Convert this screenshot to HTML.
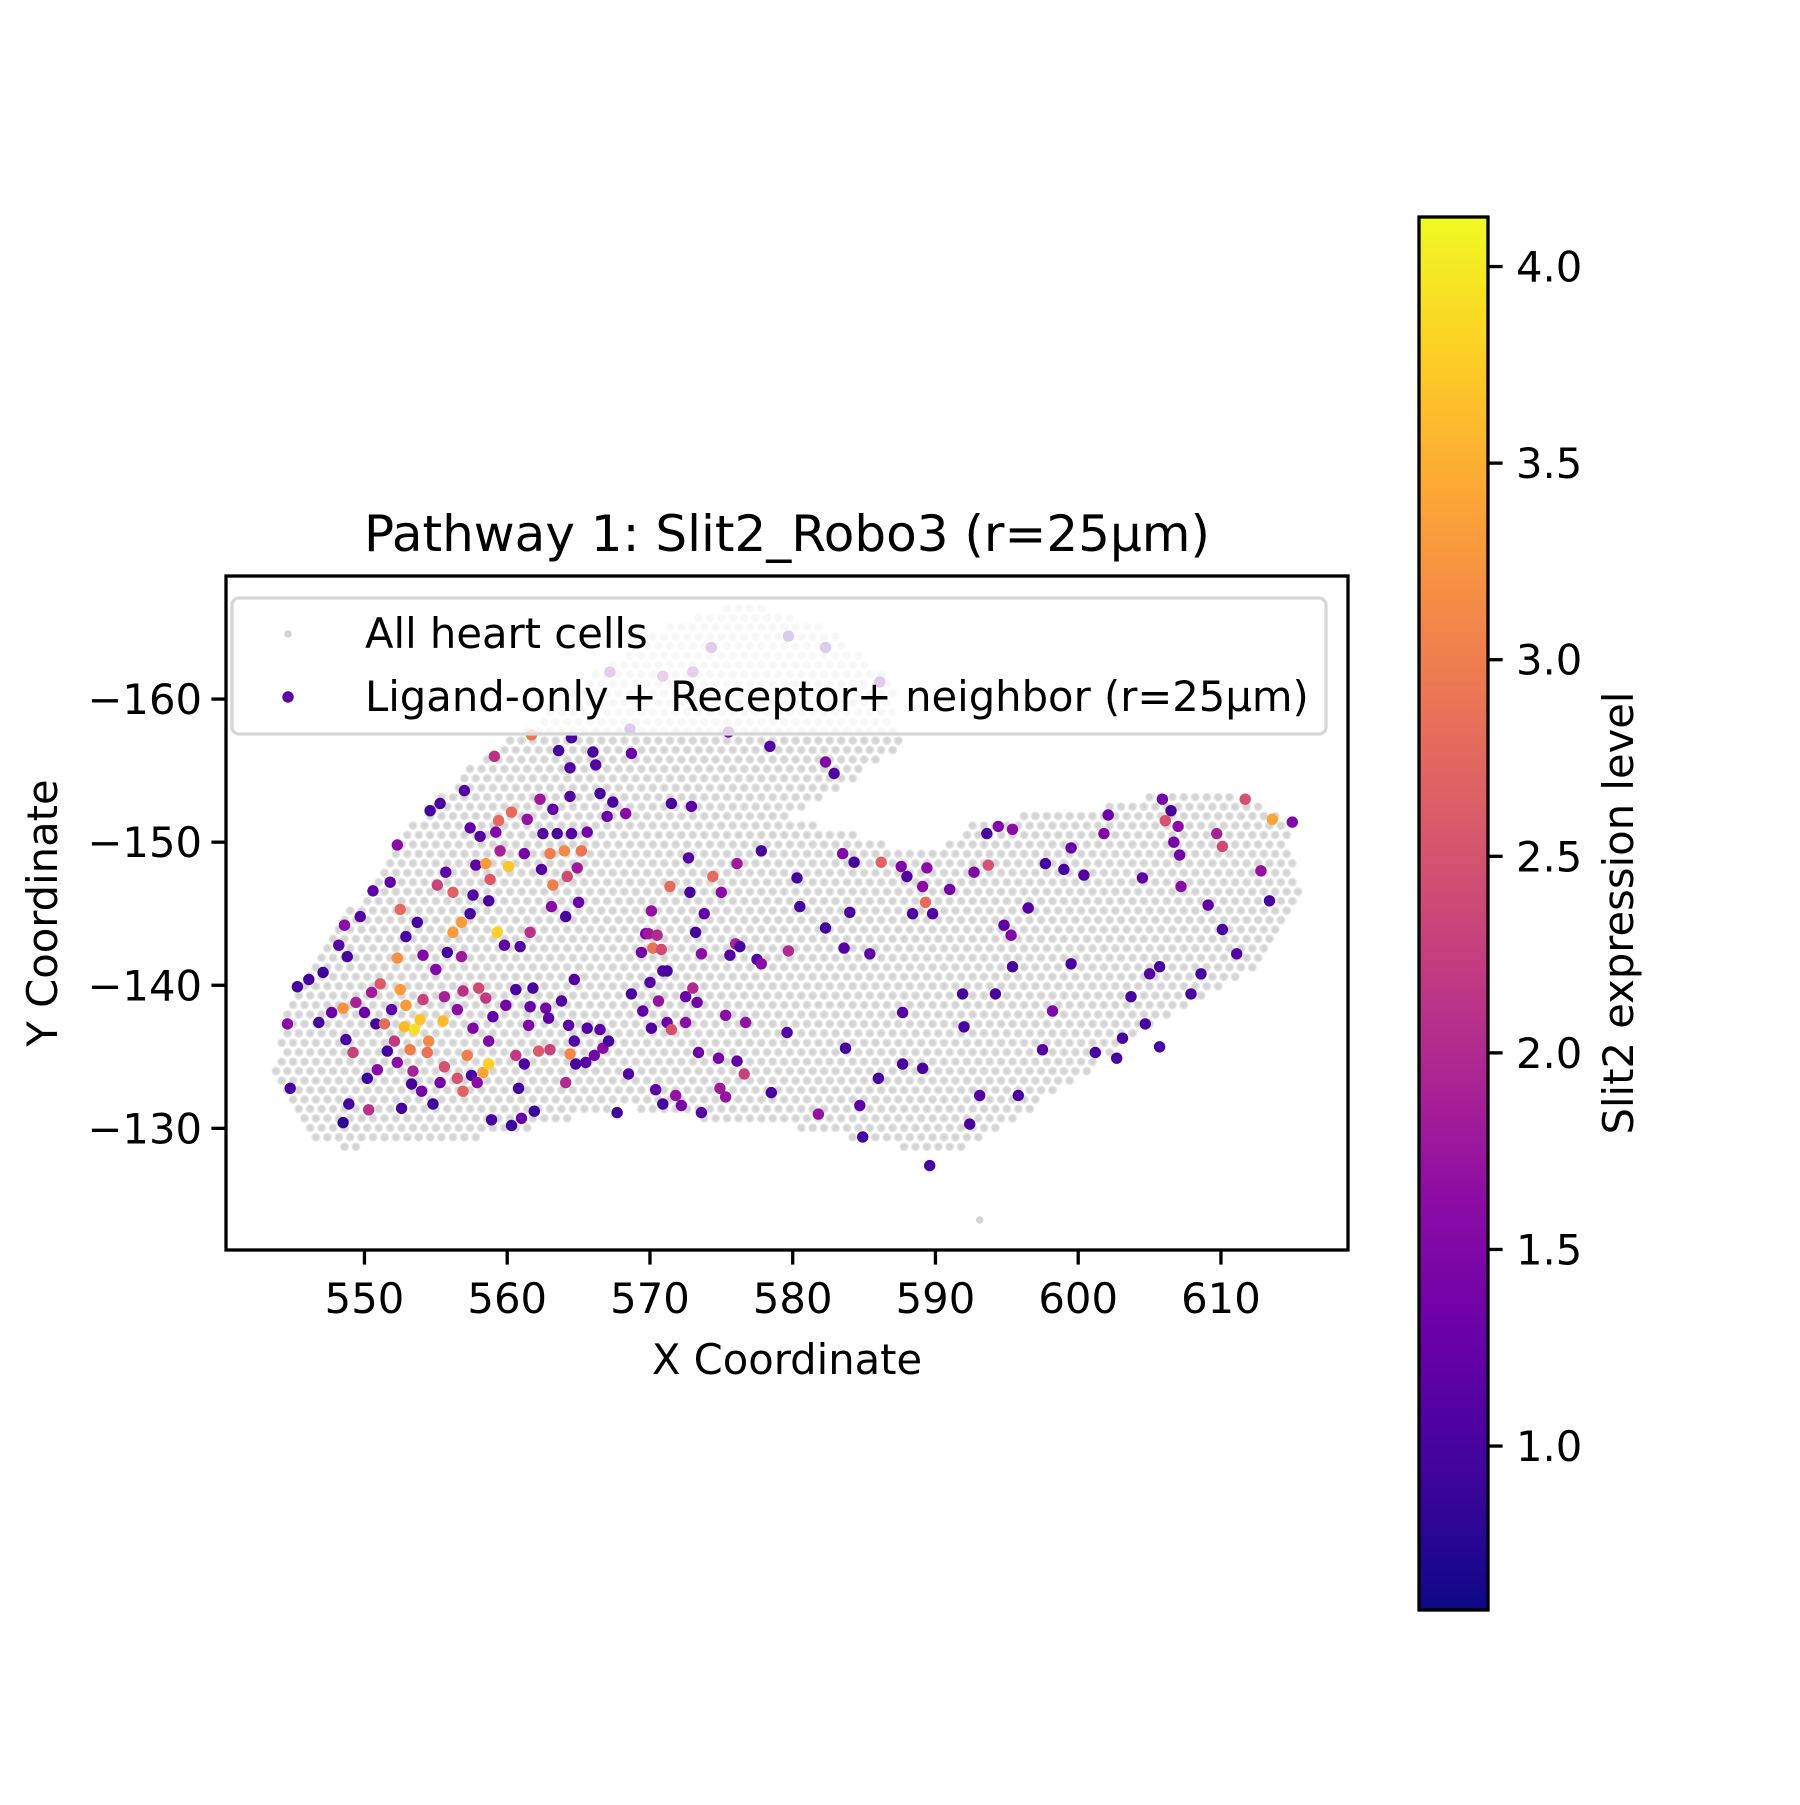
<!DOCTYPE html>
<html><head><meta charset="utf-8"><style>
html,body{margin:0;padding:0;background:#fff}
svg text{font-family:"DejaVu Sans","Liberation Sans",sans-serif;fill:#000}
</style></head><body>
<svg id="chart" width="1800" height="1800" viewBox="0 0 1800 1800" xmlns="http://www.w3.org/2000/svg">
<rect width="1800" height="1800" fill="#fff"/>
<defs>
<linearGradient id="plasma" x1="0" y1="1" x2="0" y2="0">
<stop offset="0" stop-color="#0d0887"/><stop offset="0.1" stop-color="#41049d"/><stop offset="0.2" stop-color="#6a00a8"/><stop offset="0.3" stop-color="#8f0da4"/><stop offset="0.4" stop-color="#b12a90"/><stop offset="0.5" stop-color="#cc4778"/><stop offset="0.6" stop-color="#e16462"/><stop offset="0.7" stop-color="#f2844b"/><stop offset="0.8" stop-color="#fca636"/><stop offset="0.9" stop-color="#fcce25"/><stop offset="1" stop-color="#f0f921"/>
</linearGradient>
<clipPath id="plotclip"><rect x="226" y="576" width="1122" height="674"/></clipPath>
</defs>
<g id="bg" clip-path="url(#plotclip)"></g>
<g id="fg" clip-path="url(#plotclip)"></g>
<g id="axes"></g>
<g id="legend"></g>
<g id="cbar"></g>
</svg>
<script>
// Outline of the heart tissue region (data coords) used for the background cell lattice
const outlineX=[543.7,544.7,547.9,551.9,556.8,561.6,566.5,571.3,576.9,582.6,587.1,587.5,583.5,579.4,582.6,589.1,593.2,601.2,606.1,610.1,614.2,615.6,613.3,609.3,605.3,601.2,596.4,593.1,589.5,585.9,581.0,576.2,572.1,568.1,563.3,558.4,553.6,548.7,546.3,543.9];
const outlineY=[-134.7,-138.7,-143.6,-149.6,-154.8,-158.1,-162.1,-165.3,-166.8,-164.9,-161.3,-156.5,-154.0,-151.6,-151.0,-149.2,-151.5,-152.4,-153.4,-153.4,-152.0,-146.8,-141.9,-139.5,-137.5,-134.3,-131.1,-129.0,-128.2,-129.0,-129.9,-130.5,-130.8,-131.5,-130.3,-129.4,-129.1,-128.6,-129.0,-132.7];
const extraGrayX=[593.1];
const extraGrayY=[-123.6];
// Ligand-only cells with receptor+ neighbor
const ptX=[544.6,544.8,545.3,546.1,547.1,546.8,547.7,548.2,548.5,548.6,548.8,548.7,548.9,548.5,549.2,549.4,549.7,550,550.2,550.3,550.5,550.6,550.9,551.1,550.8,551.4,551.6,551.8,551.9,552.3,552.1,552.3,552.5,552.5,552.6,552.3,552.9,552.8,552.9,553.2,553.3,553.5,553.4,553.7,553.9,554.1,554.1,554.0,554.6,554.5,554.4,554.8,555.0,555.1,555.3,555.5,555.6,555.6,555.8,555.7,555.3,556.2,556.2,556.5,556.5,556.8,556.8,557.0,556.9,556.9,557.2,557.4,557.4,557.6,557.6,557.8,557.5,557.9,558.0,558.1,558.3,558.5,558.5,558.7,558.7,558.7,558.8,558.9,559.0,559.1,559.2,559.3,559.4,559.5,559.8,559.9,560.1,560.3,560.3,560.6,560.6,560.9,560.8,561.0,561.2,561.2,561.4,561.5,561.6,561.8,561.6,561.9,561.7,562.2,562.3,562.4,562.5,562.7,562.9,563.0,563.0,563.2,563.1,563.2,563.5,563.6,563.8,564.0,564.1,564.1,564.2,564.3,564.4,564.4,564.5,564.4,564.5,564.7,564.9,564.7,564.8,565.0,565.2,565.5,565.6,565.6,566.0,566.1,566.2,566.5,566.5,566.7,567.0,567.1,567.4,567.7,568.3,568.5,568.7,568.7,569.4,569.5,569.7,570.0,569.9,570.1,570.1,570.2,570.5,570.4,570.6,570.8,570.9,570.9,571.2,571.2,571.4,571.5,571.5,571.8,572.2,572.5,572.5,572.7,572.9,572.8,573.0,573.2,573.3,573.4,573.6,573.6,573.8,574.4,574.8,574.9,575.0,575.3,575.3,575.5,575.6,576.0,576.1,576.1,576.3,576.6,576.7,577.5,577.8,577.8,578.4,578.5,579.6,579.7,580.3,580.5,581.8,582.3,582.3,582.9,583.5,583.6,583.7,584.0,584.3,584.7,584.9,585.4,586.0,586.2,587.6,587.7,587.7,588.0,588.4,589.1,589.1,589.3,589.4,589.8,589.6,591.0,591.9,592.0,592.4,592.7,593.1,593.6,593.7,594.2,594.4,594.8,595.3,595.4,595.4,595.8,596.5,597.5,597.7,598.2,599.0,599.5,599.5,600.4,601.2,601.8,602.1,602.7,603.1,603.7,604.5,604.7,605.0,605.7,605.7,605.9,606.1,606.5,606.7,607.0,607.1,607.2,607.9,608.6,609.1,609.7,610.1,610.1,611.1,611.7,612.8,613.6,613.4,615.0,567.2,570.9,573.0,574.3,579.7,582.3,586.1,568.6];
const ptY=[-137.3,-132.8,-139.9,-140.4,-140.9,-137.4,-138.1,-142.8,-138.4,-144.2,-142.0,-136.2,-131.7,-130.4,-135.3,-138.8,-144.8,-138.1,-133.5,-131.3,-139.5,-146.6,-134.1,-140.1,-137.3,-137.3,-135.4,-147.2,-138.3,-149.8,-136.1,-134.6,-145.3,-139.7,-131.4,-141.9,-143.4,-137.1,-138.6,-135.5,-133.1,-136.9,-134.0,-144.4,-137.6,-142.1,-139.0,-132.6,-152.2,-136.1,-135.3,-131.7,-141.1,-147.0,-133.2,-137.5,-134.3,-139.2,-142.3,-147.9,-152.7,-143.7,-146.5,-133.5,-138.3,-144.4,-142.0,-153.6,-139.6,-132.6,-135.1,-145.0,-151.0,-146.3,-137.0,-148.4,-133.7,-133.2,-139.8,-150.4,-133.9,-148.5,-139.1,-134.5,-136.1,-145.9,-147.4,-130.6,-137.8,-156.0,-150.7,-143.7,-151.5,-149.4,-142.8,-138.6,-148.3,-130.2,-152.1,-135.1,-139.7,-142.7,-132.8,-130.7,-149.2,-134.5,-151.6,-137.2,-143.7,-139.8,-138.5,-131.2,-157.5,-135.4,-153.0,-148.1,-150.6,-138.4,-137.7,-135.5,-149.2,-147.0,-145.5,-152.3,-150.6,-156.4,-138.9,-149.4,-144.8,-133.2,-147.6,-137.2,-135.2,-153.2,-157.3,-155.2,-150.6,-140.4,-148.2,-136.1,-134.5,-145.8,-149.4,-134.6,-150.7,-137.0,-156.3,-135.1,-155.4,-153.4,-136.9,-135.6,-151.8,-136.1,-152.8,-131.1,-152.0,-133.8,-139.4,-156.2,-142.3,-138.2,-143.6,-140.2,-143.6,-145.2,-137.0,-142.6,-143.5,-132.7,-138.9,-142.5,-131.7,-141.0,-137.4,-141.0,-146.9,-152.7,-136.9,-132.3,-131.6,-137.4,-139.2,-148.9,-152.5,-146.5,-139.8,-143.7,-138.8,-135.3,-142.2,-131.1,-145.0,-147.6,-134.9,-132.8,-146.5,-132.2,-137.9,-157.7,-142.1,-142.9,-148.5,-134.7,-142.7,-133.8,-137.4,-141.8,-149.4,-141.5,-156.7,-132.5,-136.7,-142.4,-147.5,-145.5,-131.0,-144.0,-155.6,-154.8,-149.2,-142.6,-135.6,-145.1,-148.6,-131.6,-129.4,-142.2,-133.5,-148.6,-148.3,-134.5,-138.1,-147.6,-145.0,-134.2,-146.9,-145.8,-148.2,-145.0,-127.4,-146.7,-139.4,-137.1,-130.3,-147.9,-132.3,-150.6,-148.4,-139.4,-151.1,-144.2,-143.5,-141.3,-150.9,-132.3,-145.4,-135.5,-148.5,-138.2,-148.1,-149.6,-141.5,-147.7,-135.3,-150.6,-151.9,-134.9,-136.3,-139.2,-147.5,-137.3,-140.8,-141.3,-135.7,-153.0,-151.5,-152.2,-150.0,-151.1,-149.1,-146.9,-139.4,-140.8,-145.6,-150.6,-149.7,-143.9,-142.2,-153.0,-148.0,-151.6,-145.9,-151.4,-161.9,-161.6,-161.9,-163.6,-164.4,-163.6,-161.2,-157.9];
const ptV=[1.6,1.0,1.0,1.0,0.9,1.0,1.3,1.1,3.2,1.6,1.0,1.0,1.0,0.8,2.3,1.9,1.1,1.3,0.9,2.1,1.8,1.2,1.6,2.6,1.0,2.8,1.0,1.2,1.2,1.6,2.2,1.6,2.8,3.3,1.0,3.2,1.0,3.6,3.3,3.0,1.0,3.9,1.9,1.0,3.7,1.5,2.3,1.4,1.0,3.1,2.9,0.9,1.5,2.3,1.4,3.6,2.5,1.9,1.0,1.2,1.0,3.3,2.7,2.5,1.6,3.3,1.8,1.1,2.1,2.7,3.0,1.0,1.2,1.1,1.5,1.2,1.0,1.6,2.4,1.1,3.4,3.3,2.2,3.8,1.5,1.0,2.6,1.0,1.2,2.1,1.5,3.8,2.8,1.9,1.2,1.4,3.7,0.9,2.8,2.2,1.0,1.1,1.0,1.3,1.4,1.0,1.7,1.5,2.1,1.0,1.3,0.9,2.9,2.6,1.8,1.1,1.1,1.4,1.2,2.3,3.0,3.0,1.6,1.2,1.0,1.0,1.1,3.1,1.0,2.0,2.4,1.2,3.1,1.1,1.0,1.1,1.1,1.1,1.8,1.1,1.0,1.3,2.9,1.1,1.4,1.1,1.0,1.4,1.1,1.0,1.2,1.6,1.3,1.0,1.0,0.9,1.6,1.1,1.0,1.3,1.4,1.2,1.4,1.1,1.8,1.7,1.1,2.9,2.0,1.2,1.7,2.4,1.0,1.1,1.3,1.0,2.8,1.0,2.5,1.7,1.4,1.6,1.3,1.1,1.2,1.0,2.0,1.0,1.4,1.3,1.6,1.1,1.2,2.8,1.4,1.8,1.6,1.7,1.6,1.5,1.1,1.9,1.8,1.2,1.0,2.3,1.7,1.1,1.0,1.6,1.1,1.0,1.1,2.0,1.0,1.0,1.7,1.0,1.5,1.1,1.5,1.1,1.0,1.0,1.0,1.2,1.0,1.2,1.0,2.7,1.5,1.0,1.1,1.1,1.0,1.0,1.6,2.8,1.6,1.1,1.0,1.4,1.0,1.0,1.0,1.5,1.1,1.0,2.5,1.0,1.5,1.2,1.5,1.0,1.6,1.0,1.1,1.1,1.0,1.5,1.0,1.3,1.0,1.1,1.0,1.5,1.3,1.0,1.0,1.0,1.2,1.0,1.1,1.0,1.0,1.4,2.5,1.0,1.4,1.6,1.4,1.6,1.0,1.0,1.2,1.9,2.4,1.0,1.1,2.5,1.7,3.4,1.0,1.5,1.4,1.7,1.6,1.3,1.0,1.0,1.3,1.1];
const xTicks=[550,560,570,580,590,600,610];
const yTicks=[-160,-150,-140,-130];
const cbTicks=[1.0,1.5,2.0,2.5,3.0,3.5,4.0];

const NS='http://www.w3.org/2000/svg';
const AX={l:226,t:576,r:1348,b:1250}, XD=[540.3,618.9], YD=[-168.6,-121.5];
const CB={l:1419,t:217,r:1488,b:1610}, VD=[0.583,4.126];
function sx(v){return AX.l+(v-XD[0])/(XD[1]-XD[0])*(AX.r-AX.l);}
function sy(v){return AX.t+(v-YD[0])/(YD[1]-YD[0])*(AX.b-AX.t);}
function cy(v){return CB.b-(v-VD[0])/(VD[1]-VD[0])*(CB.b-CB.t);}
function mk(tag,at,parent){const e=document.createElementNS(NS,tag);for(const k in at)e.setAttribute(k,at[k]);parent.appendChild(e);return e;}
const stops=[[13,8,135],[65,4,157],[106,0,168],[143,13,164],[177,42,144],[204,71,120],[225,100,98],[242,132,75],[252,166,54],[252,206,37],[240,249,33]];
function plasma(v){let t=(v-VD[0])/(VD[1]-VD[0]);t=Math.max(0,Math.min(1,t))*10;const i=Math.min(9,Math.floor(t)),f=t-i;const a=stops[i],b=stops[i+1];return 'rgb('+a.map((c,k)=>Math.round(c+(b[k]-c)*f)).join(',')+')';}
function inside(x,y){let c=false;for(let i=0,j=outlineX.length-1;i<outlineX.length;j=i++){const xi=outlineX[i],yi=outlineY[i],xj=outlineX[j],yj=outlineY[j];if(((yi>y)!==(yj>y))&&(x<(xj-xi)*(y-yi)/(yj-yi)+xi))c=!c;}return c;}

const bg=document.getElementById('bg');
for(let r=0,y=-167;y<-127.5;y+=0.66,r++){
  for(let x=543+(r%2)*0.4;x<616;x+=0.8){
    if(inside(x,y)){
      const c=mk('circle',{cx:sx(x).toFixed(1),cy:sy(y).toFixed(1),r:3.8,fill:'#d4d4d4',stroke:'#e4e4e4','stroke-width':1.4},bg);
      
      
    }
  }
}
for(let i=0;i<extraGrayX.length;i++){
  const c=mk('circle',{cx:sx(extraGrayX[i]),cy:sy(extraGrayY[i]),r:3.8,fill:'#d4d4d4'},bg);
  
  
}
const fg=document.getElementById('fg');
for(let i=0;i<ptX.length;i++){
  const c=mk('circle',{cx:sx(ptX[i]).toFixed(1),cy:sy(ptY[i]).toFixed(1),r:5.7,fill:plasma(ptV[i])},fg);
  
  
}
const ax=document.getElementById('axes');
const frame=mk('rect',{x:AX.l,y:AX.t,width:AX.r-AX.l,height:AX.b-AX.t,fill:'none',stroke:'#000','stroke-width':3.3},ax);


xTicks.forEach(v=>{const x=sx(v);
  const l=mk('line',{x1:x,x2:x,y1:AX.b,y2:AX.b+14.6,stroke:'#000','stroke-width':3.3},ax);
  
  
  const t=mk('text',{x:x,y:AX.b+63,'font-size':41.7,'text-anchor':'middle'},ax);t.textContent=v;
  
  });
yTicks.forEach(v=>{const y=sy(v);
  const l=mk('line',{x1:AX.l-14.6,x2:AX.l,y1:y,y2:y,stroke:'#000','stroke-width':3.3},ax);
  
  
  const t=mk('text',{x:AX.l-24,y:y+15,'font-size':41.7,'text-anchor':'end'},ax);t.textContent='\u2212'+Math.abs(v);
  
  });
</script>
<script>
(function(){
const ax=document.getElementById('axes');
function T(txt,at,name){const t=document.createElementNS('http://www.w3.org/2000/svg','text');for(const k in at)t.setAttribute(k,at[k]);t.textContent=txt;ax.appendChild(t);return t;}
T('Pathway 1: Slit2_Robo3 (r=25\u03bcm)',{x:787,y:551,'font-size':50,'text-anchor':'middle'},'chart-title');
T('X Coordinate',{x:787,y:1374,'font-size':41.7,'text-anchor':'middle'},'x-axis-title');
T('Y Coordinate',{x:0,y:0,'font-size':41.7,'text-anchor':'middle',transform:'translate(57,913) rotate(-90)'},'y-axis-title');
const lg=document.getElementById('legend');
const box=document.createElementNS('http://www.w3.org/2000/svg','rect');
[['x',232],['y',598],['width',1094],['height',136],['rx',7],['fill','rgba(255,255,255,0.8)'],['stroke','#d6d6d6'],['stroke-width',3.3]].forEach(a=>box.setAttribute(a[0],a[1]));
lg.appendChild(box);


const m1=document.createElementNS('http://www.w3.org/2000/svg','circle');
m1.setAttribute('cx',288);m1.setAttribute('cy',634);m1.setAttribute('r',3.8);m1.setAttribute('fill','#d3d3d3');lg.appendChild(m1);


const m2=document.createElementNS('http://www.w3.org/2000/svg','circle');
m2.setAttribute('cx',288);m2.setAttribute('cy',697);m2.setAttribute('r',5.7);m2.setAttribute('fill','#5c01a6');lg.appendChild(m2);


function LT(txt,y,name){const t=document.createElementNS('http://www.w3.org/2000/svg','text');t.setAttribute('x',365);t.setAttribute('y',y);t.setAttribute('font-size',41.7);t.textContent=txt;lg.appendChild(t);}
LT('All heart cells',648,'legend-entry-all-cells');
LT('Ligand-only + Receptor+ neighbor (r=25\u03bcm)',711,'legend-entry-ligand');
const cb=document.getElementById('cbar');
const bar=document.createElementNS('http://www.w3.org/2000/svg','rect');
[['x',CB.l],['y',CB.t],['width',CB.r-CB.l],['height',CB.b-CB.t],['fill','url(#plasma)'],['stroke','#000'],['stroke-width',3.3]].forEach(a=>bar.setAttribute(a[0],a[1]));
cb.appendChild(bar);


cbTicks.forEach(v=>{const y=cy(v);
  const l=document.createElementNS('http://www.w3.org/2000/svg','line');
  l.setAttribute('x1',CB.r);l.setAttribute('x2',CB.r+14.6);l.setAttribute('y1',y);l.setAttribute('y2',y);l.setAttribute('stroke','#000');l.setAttribute('stroke-width',3.3);cb.appendChild(l);
  
  
  const t=document.createElementNS('http://www.w3.org/2000/svg','text');
  t.setAttribute('x',CB.r+28);t.setAttribute('y',y+15);t.setAttribute('font-size',41.7);t.textContent=v.toFixed(1);cb.appendChild(t);
  
  });
const cl=document.createElementNS('http://www.w3.org/2000/svg','text');
cl.setAttribute('x',0);cl.setAttribute('y',0);cl.setAttribute('font-size',41.7);cl.setAttribute('text-anchor','middle');cl.setAttribute('transform','translate(1633,913) rotate(-90)');cl.textContent='Slit2 expression level';cb.appendChild(cl);


})();
</script>
</body></html>
